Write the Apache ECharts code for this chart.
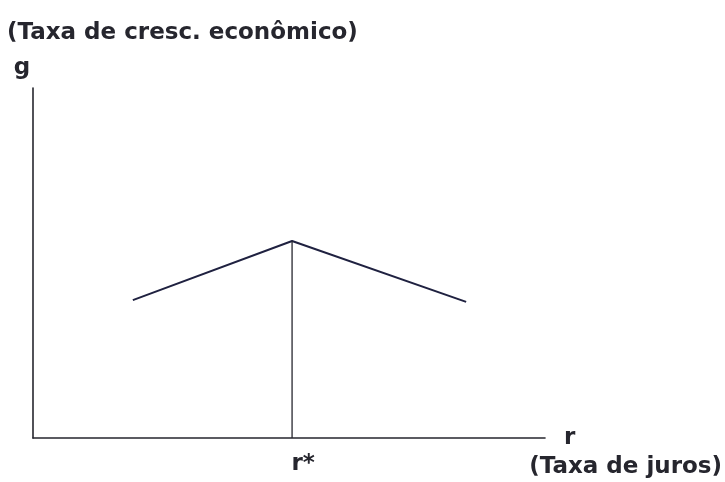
<!DOCTYPE html>
<html>
<head>
<meta charset="utf-8">
<script src="https://cdn.jsdelivr.net/npm/echarts@6/dist/echarts.min.js"></script>
<style>
  html, body { margin: 0; padding: 0; background: #ffffff; }
  #chart { width: 725px; height: 482px; }
</style>
</head>
<body>
<div id="chart"></div>
<script>
// Growth rate g as a function of the interest rate r (peaks at r*)
const curveR = [19.5, 50.6, 84.6];
const curveG = [39.4, 56.3, 38.9];
const rStar = 50.6;
const gAtRStar = 56.3;

const yTitle = '(Taxa de cresc. econômico)';
const xTitle = '(Taxa de juros)';
const yName = 'g';
const xName = 'r';
const rStarLabel = 'r*';

const ink = '#26262e';
const font = '"DejaVu Sans", "Liberation Sans", sans-serif';
const fs = 23;

const chart = echarts.init(document.getElementById('chart'));
chart.setOption({
  animation: false,
  backgroundColor: '#ffffff',
  grid: { left: 33, right: 180, top: 88, bottom: 44 },
  title: [
    { text: yTitle, left: 7, top: 22, padding: 0,
      textStyle: { fontFamily: font, fontSize: fs, fontWeight: 'bold', color: ink } },
    { text: xTitle, right: 3, top: 456, padding: 0,
      textStyle: { fontFamily: font, fontSize: fs, fontWeight: 'bold', color: ink } }
  ],
  xAxis: {
    type: 'value', min: 0, max: 100,
    name: xName, nameLocation: 'end', nameGap: 19,
    nameTextStyle: { fontFamily: font, fontSize: fs, fontWeight: 'bold', color: ink, verticalAlign: 'middle', padding: [12, 0, 0, 0] },
    axisLine: { show: true, lineStyle: { color: ink, width: 1.6 } },
    axisTick: { show: false }, axisLabel: { show: false }, splitLine: { show: false }
  },
  yAxis: {
    type: 'value', min: 0, max: 100,
    name: yName, nameLocation: 'end', nameGap: 8,
    nameTextStyle: { fontFamily: font, fontSize: fs, fontWeight: 'bold', color: ink, align: 'center', padding: [0, 22, 0, 0] },
    axisLine: { show: true, lineStyle: { color: ink, width: 1.6 } },
    axisTick: { show: false }, axisLabel: { show: false }, splitLine: { show: false }
  },
  series: [
    {
      type: 'line',
      data: curveR.map((r, i) => [r, curveG[i]]),
      symbol: 'none',
      lineStyle: { color: '#1f2140', width: 2 }
    },
    {
      type: 'line',
      data: [[rStar, 0], [rStar, gAtRStar]],
      symbol: 'none',
      lineStyle: { color: ink, width: 1.3 },
      markPoint: {
        symbol: 'rect', symbolSize: 0,
        data: [{ coord: [rStar, 0] }],
        label: {
          show: true, formatter: rStarLabel, position: 'bottom', distance: 15, offset: [11, 0],
          fontFamily: font, fontSize: fs, fontWeight: 'bold', color: ink
        }
      }
    }
  ]
});
</script>
</body>
</html>
